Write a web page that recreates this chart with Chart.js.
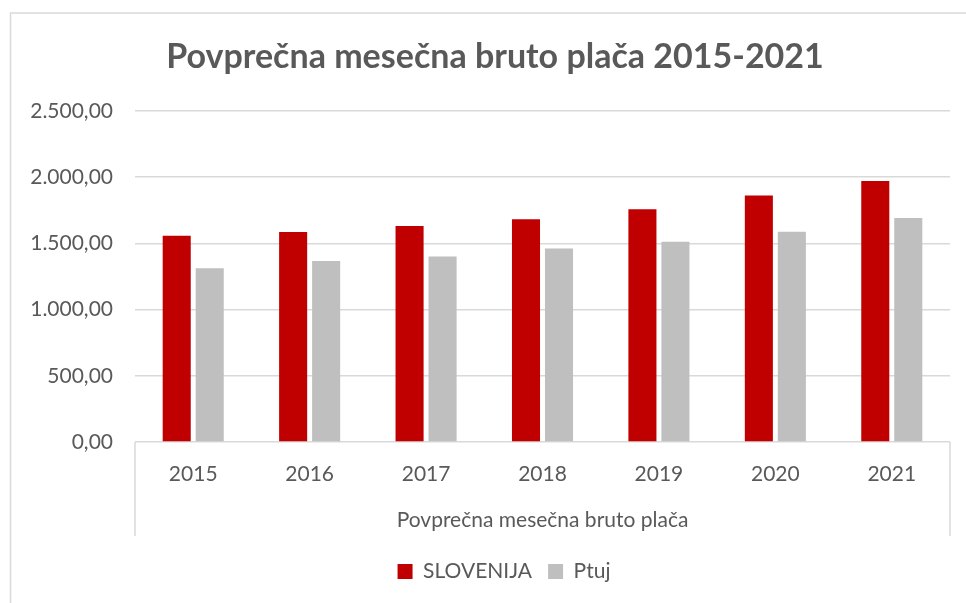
<!DOCTYPE html>
<html>
<head>
<meta charset="utf-8">
<script src="https://cdn.jsdelivr.net/npm/chart.js@4/dist/chart.umd.min.js"></script>
<style>
  html,body{margin:0;padding:0;background:#fff;overflow:hidden;}
  #wrap{width:966px;height:603px;position:relative;}
</style>
</head>
<body>
<div id="wrap"><canvas id="c" width="966" height="603"></canvas></div>
<script>
const categories = ['2015','2016','2017','2018','2019','2020','2021'];
const sloveniaValues = [1556, 1585, 1630, 1682, 1756, 1860, 1971];
const ptujValues = [1312, 1366, 1400, 1461, 1511, 1587, 1690];
const yTicks = [0, 500, 1000, 1500, 2000, 2500];
const groupLabel = 'Povprečna mesečna bruto plača';
const titleText = 'Povprečna mesečna bruto plača 2015-2021';

function fmt(v){
  const s = Math.round(v).toString().replace(/\B(?=(\d{3})+(?!\d))/g,'.');
  return s + ',00';
}

const GRAY = '#d9d9d9';
const TXT = '#595959';

const decor = {
  id:'decor',
  afterLayout(chart){
    if (chart.titleBlock) { chart.titleBlock.left = 40; }
    if (chart.legend) { chart.legend.left = 10 + 48; }
  },
  beforeDraw(chart){
    const ctx = chart.ctx;
    ctx.save();
    ctx.strokeStyle = GRAY;
    ctx.lineWidth = 1.5;
    ctx.beginPath();
    ctx.moveTo(10.5, 603);
    ctx.lineTo(10.5, 13);
    ctx.lineTo(966, 13);
    ctx.stroke();
    ctx.restore();
  },
  afterDraw(chart){
    const ctx = chart.ctx;
    const a = chart.chartArea;
    ctx.save();
    ctx.strokeStyle = GRAY;
    ctx.lineWidth = 1.5;
    ctx.beginPath();
    ctx.moveTo(a.left, a.bottom);
    ctx.lineTo(a.left, a.bottom + 94);
    ctx.moveTo(a.right, a.bottom);
    ctx.lineTo(a.right, a.bottom + 94);
    ctx.stroke();
    ctx.restore();
  }
};

new Chart(document.getElementById('c'), {
  type:'bar',
  data:{
    labels: categories,
    datasets:[
      {label:'SLOVENIJA', data: sloveniaValues, backgroundColor:'#C00000', categoryPercentage:0.567, barPercentage:0.85},
      {label:'Ptuj', data: ptujValues, backgroundColor:'#BFBFBF', categoryPercentage:0.567, barPercentage:0.85}
    ]
  },
  options:{
    responsive:false,
    animation:false,
    devicePixelRatio:1,
    layout:{padding:{left:10, right:16, top:0, bottom:11}},
    plugins:{
      title:{display:true, text:titleText, color:TXT,
        font:{family:'Lato', size:34, weight:'bold'}, padding:{top:37, bottom:33}},
      legend:{display:true, position:'bottom',
        labels:{color:TXT, font:{family:'Lato', size:21}, boxWidth:15, boxHeight:15, padding:16}},
      tooltip:{enabled:false}
    },
    scales:{
      x:{
        grid:{display:false, drawTicks:false},
        border:{display:false},
        ticks:{color:TXT, font:{family:'Lato', size:21}, padding:20},
        title:{display:true, text:groupLabel, color:TXT, font:{family:'Lato', size:21}, padding:{top:0,bottom:12}},
        afterFit(s){ s.height = 103; }
      },
      y:{
        min:0, max:2500,
        afterBuildTicks(s){ s.ticks = yTicks.map(v=>({value:v})); },
        grid:{color:GRAY, lineWidth:1.5, drawTicks:false},
        border:{display:false},
        ticks:{color:TXT, font:{family:'Lato', size:21}, padding:22, callback:(v)=>fmt(v)},
        afterFit(s){ s.width = 125; }
      }
    }
  },
  plugins:[decor]
});
</script>
</body>
</html>
